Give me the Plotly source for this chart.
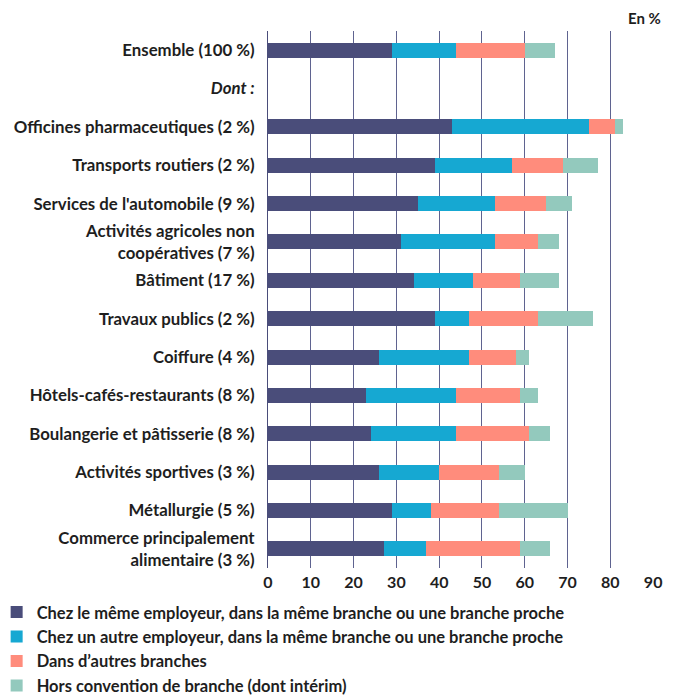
import plotly.graph_objects as go

categories = [
    "Ensemble (100 %)",
    "<i>Dont :</i>",
    "Officines pharmaceutiques (2 %)",
    "Transports routiers (2 %)",
    "Services de l'automobile (9 %)",
    "Activités agricoles non<br>coopératives (7 %)",
    "Bâtiment (17 %)",
    "Travaux publics (2 %)",
    "Coiffure (4 %)",
    "Hôtels-cafés-restaurants (8 %)",
    "Boulangerie et pâtisserie (8 %)",
    "Activités sportives (3 %)",
    "Métallurgie (5 %)",
    "Commerce principalement<br>alimentaire (3 %)",
]

meme_employeur = [29, None, 43, 39, 35, 31, 34, 39, 26, 23, 24, 26, 29, 27]
autre_employeur = [15, None, 32, 18, 18, 22, 14, 8, 21, 21, 20, 14, 9, 10]
autres_branches = [16, None, 6, 12, 12, 10, 11, 16, 11, 15, 17, 14, 16, 22]
hors_convention = [7, None, 2, 8, 6, 5, 9, 13, 3, 4, 5, 6, 16, 7]

series_names = [
    "Chez le même employeur, dans la même branche ou une branche proche",
    "Chez un autre employeur, dans la même branche ou une branche proche",
    "Dans d’autres branches",
    "Hors convention de branche (dont intérim)",
]
series_values = [meme_employeur, autre_employeur, autres_branches, hors_convention]
colors = ["#4a4d7a", "#16a8d2", "#ff8c7c", "#93c9bd"]

x_ticks = [0, 10, 20, 30, 40, 50, 60, 70, 80, 90]

FONT = "Lato"
TXT = "#1e1e1e"

fig = go.Figure()
for i, (name, vals, col) in enumerate(zip(series_names, series_values, colors)):
    fig.add_trace(go.Bar(
        y=categories, x=vals, name=name, orientation="h",
        marker=dict(color=col, line=dict(width=0)),
        legendgroup=f"g{i}",
        hoverinfo="x+name",
    ))

fig.update_layout(
    barmode="stack",
    bargap=0.61,
    width=678, height=696,
    margin=dict(l=268, r=24, t=31, b=128, autoexpand=False),
    paper_bgcolor="white", plot_bgcolor="white",
    font=dict(family=FONT, color=TXT, size=14),
    showlegend=True,
    legend=dict(
        x=-0.703, y=-0.05, xanchor="left", yanchor="top",
        orientation="v", traceorder="grouped",
        font=dict(family=FONT, size=16.5, color=TXT, weight="bold"),
        tracegroupgap=0, itemwidth=30, bgcolor="rgba(0,0,0,0)",
    ),
    xaxis=dict(
        range=[0, 90.2], tickvals=x_ticks, showgrid=True,
        gridcolor="#5f6390", gridwidth=1, zeroline=False,
        showline=False, ticks="", automargin=False,
        ticklabelstandoff=3,
        tickfont=dict(family=FONT, size=16, color=TXT, weight="bold"),
        fixedrange=True,
    ),
    yaxis=dict(
        autorange="reversed", showgrid=False, zeroline=False,
        showline=True, linecolor="#4a4d7a", linewidth=1, ticks="",
        ticklabelstandoff=9, automargin=False,
        tickfont=dict(family=FONT, size=16.8, color=TXT, weight="bold"),
    ),
    annotations=[dict(
        text="<b>En %</b>", xref="paper", yref="paper",
        x=1.0, y=1.0, xshift=9, yshift=13, xanchor="right", yanchor="middle",
        showarrow=False, font=dict(family=FONT, size=15, color=TXT),
    )],
)

fig.write_html("out.html")
